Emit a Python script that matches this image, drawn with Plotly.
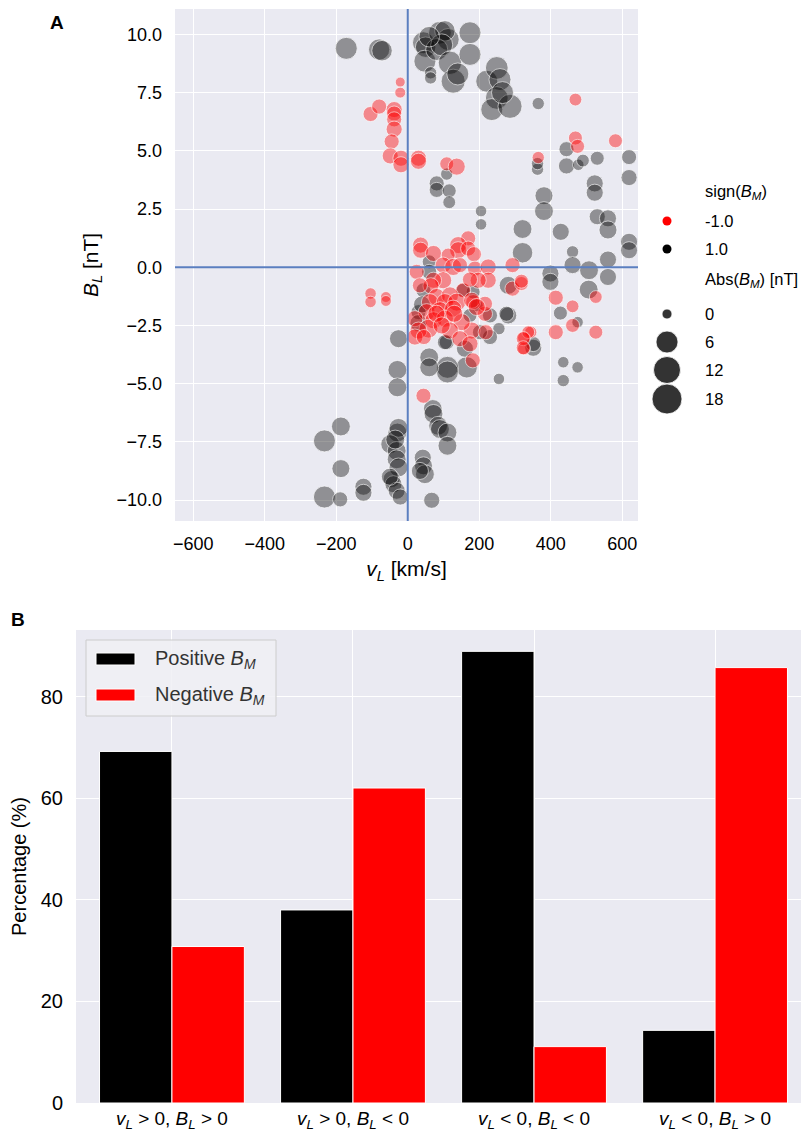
import numpy as np
import plotly.graph_objects as go

# ---- panel A data: v_L [km/s], B_L [nT], |B_M| [nT], split by sign(B_M)
v_pos = [-172, -80, -72, 44, 50, 48, 90, 113, 104, 81, 95, 60, 118, 174, 174, 127, 140, 64, 64, 221, 249, 258, 249, 235, 286, 265, 365,
         444, 444, 477, 490, 530, 619, 619, 523, 523, 363, 363, 381, 381, 109, 81, 81, 116, 116, 205, 205, 321, 321, 428,
         530, 560, 560, 619, 619, 461, 461, 507, 560, 399, 399, 506, 560, 427, 475, 435, 475, 435, 255, 281,
         281, 351, 351, 255, 230, 230, 193, 165, 111, 111, 60, 60, 109, 160, 70, 72, 85, 90, 111, 111, 42, 44, 48, 34, 67,
         60, 60, 44, 30, 174, 202, 104, 183, 155, 276, 40, 30,
         -26, -29, -29, -187, -233, -187, -124, -124, -233, -189, -29, -26, -49, -31, -31, -26, -45, -40, -31, -21, -35, -50]
b_pos = [9.40, 9.35, 9.30, 9.64, 9.45, 8.85, 10.07, 9.78, 10.15, 9.35, 9.55, 9.90, 8.78, 10.07, 9.14, 7.99, 8.30, 8.35, 8.13, 7.99, 8.56, 8.06, 7.27, 6.77, 6.91, 7.50, 7.03,
         5.07, 4.35, 4.40, 4.58, 4.68, 4.73, 3.85, 3.60, 3.20, 4.21, 4.45, 3.07, 2.41, 4.00, 3.60, 3.32, 3.28, 2.79, 2.41, 1.84, 1.64, 0.62, 1.52,
         2.17, 2.10, 1.60, 1.09, 0.73, 0.66, 0.09, -0.13, 0.33, -0.27, -0.63, -0.96, -0.42, -1.97, -2.36, -4.08, -4.30, -4.87, -4.80, -2.07,
         -0.78, -3.46, -3.30, -2.64, -2.07, -3.00, -1.64, -4.30, -4.30, -4.50, -3.87, -4.30, -3.22, -3.50, -6.09, -6.30, -6.81, -6.95, -7.10, -7.67, -8.18, -8.53, -8.89, -8.75, -10.01,
         0.23, -0.20, -0.99, -1.93, -2.07, -2.79, -3.22, -1.06, -0.99, -2.00, -1.60, -2.40,
         -3.07, -4.41, -5.16, -6.84, -7.46, -8.65, -9.43, -9.69, -9.87, -9.97, -7.10, -6.90, -7.60, -7.89, -8.25, -8.60, -9.10, -9.32, -9.60, -9.87, -7.40, -9.00]
m_pos = [6, 5.5, 5, 6, 5, 6, 6.5, 6, 5, 6, 6, 5, 7, 6, 6, 7.5, 6, 0.8, 0.8, 6, 6.5, 6, 6.5, 6, 7.5, 6, 0.8,
         2, 2.5, 0.5, 1, 1.5, 2, 2.5, 3, 3, 0.8, 0.8, 3.5, 4, 0.8, 2, 2, 1.5, 1, 0.5, 0.5, 4, 5, 3,
         2.5, 3, 3.5, 3, 3, 0.8, 3, 4, 3, 3, 3, 4, 3, 1.5, 0.5, 0.5, 0.5, 0.8, 0.5, 3,
         3.5, 3, 2, 0.8, 2, 2, 1, 5.5, 6, 6, 4, 4, 2, 3, 4, 4, 4, 4, 4, 4, 3, 3.5, 4, 3, 2.5,
         1.5, 2, 2, 2, 1.5, 2, 2, 1.5, 1.5, 2, 3, 3,
         3.5, 4, 4, 4, 6, 3.5, 3, 3, 6, 2, 4, 4, 4, 4, 4, 4, 3, 3, 3, 2.5, 4, 3]

v_neg = [-21, -21, -104, -80, -38, -38, -38, -38, -45, -49, -19, -19, 30, 30,
         469, 469, 475, 581, 365, 109, 137,
         -104, -104, -61, -61,
         293, 526, 414, 461, 461, 414, 526, 293, 318, 318, 344, 325, 325, 44, 182, 179, 216, 216, 183, 218, 155,
         169, 36, 36, 72, 141, 141, 169, 185, 113, 25, 99, 127, 146, 188, 225, 225, 197, 174, 99, 72,
         65, 34, 81, 118, 62, 104, 137, 179, 53, 90, 127, 193, 20, 72, 104, 151, 58, 30, 118, 146,
         174, 337, 323, 323, 20, 45, 80, 95, 130]
b_neg = [7.95, 7.50, 6.58, 6.90, 6.77, 6.60, 6.35, 5.93, 5.40, 4.78, 4.68, 4.40, 4.68, 4.55,
         7.20, 5.55, 5.19, 5.43, 4.71, 4.44, 4.32,
         -1.13, -1.49, -1.28, -1.45,
         0.09, -1.28, -1.31, -1.68, -2.50, -2.79, -2.79, -0.92, -0.70, -0.60, -2.79, -3.03, -3.50, -5.52, -4.00, -2.72, -2.00, -1.57, -1.50, -2.79, -0.99,
         1.24, 0.95, 0.73, 0.59, 0.95, 0.73, 0.80, 0.56, 0.52, -0.20, 0.09, 0.01, 0.09, -0.06, 0.01, -0.56, -0.56, -0.53, -0.56, -0.56,
         -0.80, -0.78, -1.28, -1.21, -1.50, -1.50, -1.50, -1.42, -1.93, -1.85, -1.78, -1.71, -2.21, -2.28, -2.21, -2.36, -2.64, -2.72, -2.72, -3.07,
         -3.29, -2.79, -3.07, -3.46, -3.00, -3.00, -2.00, -2.50, -2.00]
m_neg = [0, 0.3, 2, 2, 2.5, 2, 2, 2.5, 2, 2.5, 2.5, 2.5, 2.5, 2.5,
         1, 1.5, 1.5, 1.5, 0.8, 1.5, 3,
         0.5, 0.5, 0.3, 0.3,
         2, 1, 2, 1, 1.5, 2, 1.5, 2, 1.5, 1.5, 0.8, 1, 1, 2, 2, 3, 2, 2, 2, 2, 2,
         2, 2.5, 2.5, 2.5, 3, 3, 2, 2, 1.5, 2, 2.5, 3, 2, 2, 2.5, 2.5, 2.5, 2, 3, 2.5,
         2.5, 2, 3, 3, 3, 3, 3.5, 2.5, 3, 3, 3, 3, 2.5, 3, 3, 3, 4, 3, 3, 2.5,
         2.5, 1, 1.5, 1.5, 2.5, 2, 3, 3, 3]

assert len(v_pos) == len(b_pos) == len(m_pos)
assert len(v_neg) == len(b_neg) == len(m_neg)

# ---- panel B data
quadrants = ["<i>v</i><sub><i>L</i></sub> &gt; 0, <i>B</i><sub><i>L</i></sub> &gt; 0",
             "<i>v</i><sub><i>L</i></sub> &gt; 0, <i>B</i><sub><i>L</i></sub> &lt; 0",
             "<i>v</i><sub><i>L</i></sub> &lt; 0, <i>B</i><sub><i>L</i></sub> &lt; 0",
             "<i>v</i><sub><i>L</i></sub> &lt; 0, <i>B</i><sub><i>L</i></sub> &gt; 0"]
pct_positive = [69.2, 38.0, 88.9, 14.3]
pct_negative = [30.8, 62.0, 11.1, 85.7]

W, H = 809, 1136
FONT = "Liberation Sans, Arial, sans-serif"
BG = "#eaeaf2"


def px(x):
    return x / W


def py(y):
    return 1 - y / H


def diam(m):
    return np.sqrt(100 + 64 * np.asarray(m, dtype=float))


fig = go.Figure()

fig.add_trace(go.Scatter(x=v_pos, y=b_pos, mode="markers", showlegend=False,
                         marker=dict(size=diam(m_pos), color="rgba(0,0,0,0.55)",
                                     line=dict(color="white", width=0.8)),
                         xaxis="x", yaxis="y"))
fig.add_trace(go.Scatter(x=v_neg, y=b_neg, mode="markers", showlegend=False,
                         marker=dict(size=diam(m_neg), color="rgba(255,0,0,0.6)",
                                     line=dict(color="white", width=0.8)),
                         xaxis="x", yaxis="y"))

fig.add_trace(go.Bar(x=quadrants, y=pct_positive, name="Positive", marker_color="black",
                     marker_line=dict(color="white", width=1), showlegend=False,
                     xaxis="x2", yaxis="y2"))
fig.add_trace(go.Bar(x=quadrants, y=pct_negative, name="Negative", marker_color="red",
                     marker_line=dict(color="white", width=1), showlegend=False,
                     xaxis="x2", yaxis="y2"))

# zero lines in panel A
fig.add_shape(type="line", xref="x", yref="y domain", x0=0, x1=0, y0=0, y1=1,
              line=dict(color="#5b7fc0", width=2), layer="above")
fig.add_shape(type="line", xref="x domain", yref="y", x0=0, x1=1, y0=0, y1=0,
              line=dict(color="#5b7fc0", width=2), layer="above")

annotations = []
shapes = []

# panel letters
annotations.append(dict(text="<b>A</b>", x=px(49), y=py(14), xref="paper", yref="paper",
                        xanchor="center", yanchor="middle",
                        showarrow=False, font=dict(size=19, family=FONT, color="black")))
annotations.append(dict(text="<b>B</b>", x=px(10), y=py(611), xref="paper", yref="paper",
                        xanchor="center", yanchor="middle",
                        showarrow=False, font=dict(size=19, family=FONT, color="black")))

# panel A legend
leg_x_glyph, leg_x_text = 659, 695
LEG_FONT = dict(size=16.5, family=FONT, color="black")
annotations.append(dict(text="sign(<i>B</i><sub><i>M</i></sub>)", x=px(leg_x_text), y=py(184),
                        xref="paper", yref="paper", xanchor="left", yanchor="middle",
                        showarrow=False, font=LEG_FONT))
annotations.append(dict(text="Abs(<i>B</i><sub><i>M</i></sub>) [nT]", x=px(leg_x_text), y=py(272),
                        xref="paper", yref="paper", xanchor="left", yanchor="middle",
                        showarrow=False, font=LEG_FONT))
sign_items = [("-1.0", "red", 213), ("1.0", "black", 241)]
for lab, col, yy in sign_items:
    shapes.append(dict(type="circle", xref="paper", yref="paper", xsizemode="pixel", ysizemode="pixel",
                       xanchor=px(leg_x_glyph), yanchor=py(yy), x0=-4.5, x1=4.5, y0=-4.5, y1=4.5,
                       fillcolor=col, line=dict(width=0)))
    annotations.append(dict(text=lab, x=px(leg_x_text), y=py(yy), xref="paper", yref="paper",
                            xanchor="left", yanchor="middle", showarrow=False, font=LEG_FONT))
size_items = [("0", 10, 306), ("6", 22, 334), ("12", 27, 362), ("18", 30, 391)]
for lab, d, yy in size_items:
    shapes.append(dict(type="circle", xref="paper", yref="paper", xsizemode="pixel", ysizemode="pixel",
                       xanchor=px(leg_x_glyph), yanchor=py(yy), x0=-d / 2, x1=d / 2, y0=-d / 2, y1=d / 2,
                       fillcolor="rgba(0,0,0,0.8)", line=dict(color="white", width=0.8)))
    annotations.append(dict(text=lab, x=px(leg_x_text), y=py(yy), xref="paper", yref="paper",
                            xanchor="left", yanchor="middle", showarrow=False, font=LEG_FONT))

# panel B legend
shapes.append(dict(type="rect", xref="paper", yref="paper", x0=px(78), x1=px(268), y0=py(708), y1=py(632),
                   fillcolor="rgba(240,240,245,0.85)", line=dict(color="#cccccc", width=1)))
bar_leg = [("Positive <i>B</i><sub><i>M</i></sub>", "black", 651), ("Negative <i>B</i><sub><i>M</i></sub>", "red", 687)]
for lab, col, yy in bar_leg:
    shapes.append(dict(type="rect", xref="paper", yref="paper", x0=px(88), x1=px(127),
                       y0=py(yy + 6), y1=py(yy - 6), fillcolor=col, line=dict(color="white", width=1)))
    annotations.append(dict(text=lab, x=px(145), y=py(yy), xref="paper", yref="paper",
                            xanchor="left", yanchor="middle", showarrow=False,
                            font=dict(size=20, family=FONT, color="#333333")))

axis_common = dict(showgrid=True, gridcolor="white", gridwidth=1.3, zeroline=False, showline=False,
                   ticks="", color="black")

fig.update_layout(
    width=W, height=H, margin=dict(l=0, r=0, t=0, b=0),
    paper_bgcolor="white", plot_bgcolor=BG,
    font=dict(family=FONT, color="black"),
    barmode="group", bargap=0.2, bargroupgap=0,
    xaxis=dict(domain=[px(167), px(630)], anchor="y", range=[-651, 644],
               tickvals=[-600, -400, -200, 0, 200, 400, 600], tickfont=dict(size=18),
               ticklabelstandoff=10,
               title=dict(text="<i>v</i><sub><i>L</i></sub> [km/s]", font=dict(size=21), standoff=8),
               automargin=False, **axis_common),
    yaxis=dict(domain=[py(513), py(1)], anchor="x", range=[-10.9, 11.09],
               tickvals=[-10, -7.5, -5, -2.5, 0, 2.5, 5, 7.5, 10], tickformat=".1f",
               tickfont=dict(size=18), ticklabelstandoff=12,
               title=dict(text="<i>B</i><sub><i>L</i></sub> [nT]", font=dict(size=21), standoff=12),
               automargin=False, **axis_common),
    xaxis2=dict(domain=[px(68), px(803)], anchor="y2", range=[-0.53, 3.53], type="category",
                tickfont=dict(size=19), ticklabelstandoff=2, automargin=False, **axis_common),
    yaxis2=dict(domain=[py(1095), py(622)], anchor="x2", range=[0, 93.1],
                tickvals=[0, 20, 40, 60, 80], tickfont=dict(size=20), ticklabelstandoff=12,
                title=dict(text="Percentage (%)", font=dict(size=20), standoff=10),
                automargin=False, **axis_common),
    annotations=annotations,
    shapes=list(fig.layout.shapes) + shapes,
)

fig.write_html("out.html")
